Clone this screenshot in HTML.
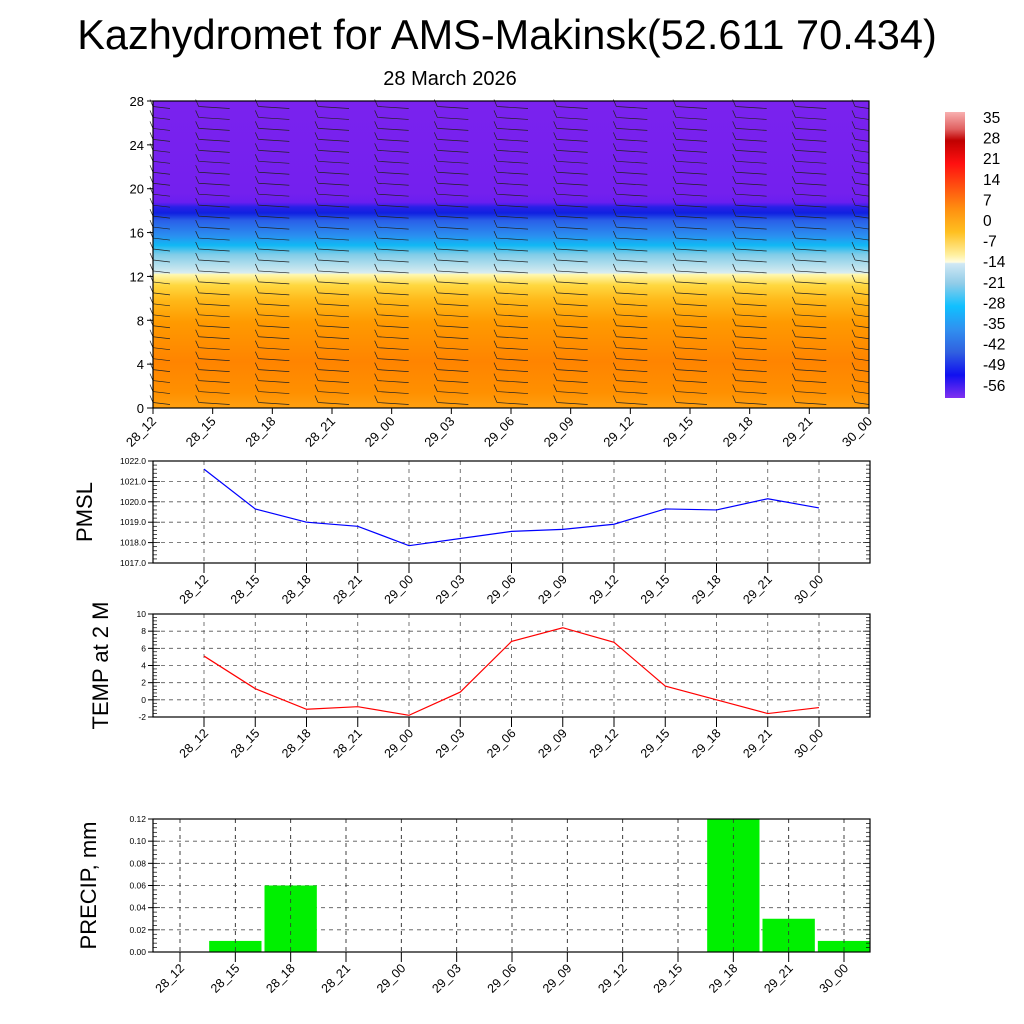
<!DOCTYPE html>
<html><head><meta charset="utf-8">
<style>
html,body{margin:0;padding:0;background:#fff;}
svg{display:block;font-family:"Liberation Sans",Arial,sans-serif;}
</style></head>
<body>
<svg id="chart" width="1024" height="1024" viewBox="0 0 1024 1024" xmlns="http://www.w3.org/2000/svg">
<defs>
<linearGradient id="tgrad" x1="0" y1="0" x2="0" y2="1">
<stop offset="0" stop-color="#7a22ee"/>
<stop offset="0.3" stop-color="#7420ee"/>
<stop offset="0.33" stop-color="#6a1ef0"/>
<stop offset="0.345" stop-color="#2a20e8"/>
<stop offset="0.365" stop-color="#1020e0"/>
<stop offset="0.39" stop-color="#2a60e8"/>
<stop offset="0.44" stop-color="#2a90f0"/>
<stop offset="0.47" stop-color="#10b8f4"/>
<stop offset="0.5" stop-color="#80cce8"/>
<stop offset="0.56" stop-color="#d8ecf0"/>
<stop offset="0.565" stop-color="#fff8b0"/>
<stop offset="0.6" stop-color="#ffd840"/>
<stop offset="0.65" stop-color="#ffb818"/>
<stop offset="0.72" stop-color="#ff9a00"/>
<stop offset="0.85" stop-color="#ff8400"/>
<stop offset="0.95" stop-color="#ff9000"/>
<stop offset="1" stop-color="#ffa010"/>
</linearGradient>
<linearGradient id="cbgrad" x1="0" y1="0" x2="0" y2="1">
<stop offset="0" stop-color="#f8b0b0"/>
<stop offset="0.06" stop-color="#e06060"/>
<stop offset="0.1" stop-color="#c00000"/>
<stop offset="0.18" stop-color="#ff1010"/>
<stop offset="0.26" stop-color="#ff5010"/>
<stop offset="0.34" stop-color="#ff9010"/>
<stop offset="0.42" stop-color="#ffc020"/>
<stop offset="0.5" stop-color="#fff0a0"/>
<stop offset="0.525" stop-color="#fffce0"/>
<stop offset="0.53" stop-color="#d0e8f4"/>
<stop offset="0.6" stop-color="#90cce8"/>
<stop offset="0.68" stop-color="#10c0ff"/>
<stop offset="0.76" stop-color="#3090f0"/>
<stop offset="0.84" stop-color="#3060e0"/>
<stop offset="0.92" stop-color="#1010f0"/>
<stop offset="1" stop-color="#8030f0"/>
</linearGradient>
</defs>
<text x="507" y="49" font-size="41.5" text-anchor="middle">Kazhydromet for AMS-Makinsk(52.611 70.434)</text>
<text x="450" y="85" font-size="20" text-anchor="middle">28 March 2026</text>
<g id="top"></g>
<g id="cb"></g>
<g id="pmsl"></g>
<g id="temp"></g>
<g id="prec"></g>
</svg>
<script>
const categories = ["28_12","28_15","28_18","28_21","29_00","29_03","29_06","29_09","29_12","29_15","29_18","29_21","30_00"];
const pmslValues = [1021.6,1019.65,1019.0,1018.8,1017.85,1018.2,1018.55,1018.65,1018.9,1019.65,1019.6,1020.15,1019.7];
const tempValues = [5.1,1.3,-1.1,-0.8,-1.8,0.9,6.8,8.4,6.7,1.6,0.0,-1.6,-0.9];
const precipValues = [0,0.01,0.06,0,0,0,0,0,0,0,0.12,0.03,0.01];
const heightTicks = [0,4,8,12,16,20,24,28];
const pmslTicks = ["1017.0","1018.0","1019.0","1020.0","1021.0","1022.0"];
const tempTicks = ["-2","0","2","4","6","8","10"];
const precipTicks = ["0.00","0.02","0.04","0.06","0.08","0.10","0.12"];
const colorbarLabels = ["35","28","21","14","7","0","-7","-14","-21","-28","-35","-42","-49","-56"];

const NS="http://www.w3.org/2000/svg";
function mk(parent,tag,attrs,text){const e=document.createElementNS(NS,tag);for(const k in attrs)e.setAttribute(k,attrs[k]);if(text!==undefined)e.textContent=text;parent.appendChild(e);return e;}

// ---- top panel ----
(function(){
const g=document.getElementById('top');
const L=153,R=869,T=101,B=408;
const xs=i=>L+i*(R-L)/(categories.length-1);
const ys=v=>B-v*(B-T)/28;
const bg=mk(g,'rect',{x:L,y:T,width:R-L,height:B-T,fill:'url(#tgrad)'});


for(let i=0;i<categories.length;i++){
  const x=xs(i);
  for(let h=0.5;h<28;h+=1){
    const y=ys(h);
    const x0=Math.max(L,x-14), x1=Math.min(R,x+17);
    if(x1-x0<3) continue;
    const b=mk(g,'path',{d:`M${x0},${y} L${x1},${y+2} M${x0},${y} L${x0-3},${y-7}`,stroke:'#222',fill:'none','stroke-width':0.7});
    
    
  }
}
mk(g,'rect',{x:L,y:T,width:R-L,height:B-T,fill:'none',stroke:'#000','stroke-width':1.2});
heightTicks.forEach(v=>{
  const y=ys(v);
  mk(g,'line',{x1:L-6,y1:y,x2:L,y2:y,stroke:'#000'});
  const t=mk(g,'text',{x:L-9,y:y+5,'font-size':13,'text-anchor':'end'},v);
  
  
});
categories.forEach((c,i)=>{
  const x=xs(i);
  mk(g,'line',{x1:x,y1:B,x2:x,y2:B+6,stroke:'#000'});
  const t=mk(g,'text',{x:x+4,y:B+14,'font-size':13,'text-anchor':'end',transform:`rotate(-45 ${x+4} ${B+14})`},c);
  
  
});
})();

// ---- colorbar ----
(function(){
const g=document.getElementById('cb');
mk(g,'rect',{x:945,y:112,width:20,height:286,fill:'url(#cbgrad)'});
colorbarLabels.forEach((l,i)=>{
  const t=mk(g,'text',{x:983,y:123+i*20.6,'font-size':15.5},l);
  
  
});
})();

// ---- line/bar panels ----
function panel(id,L,R,T,B,x0,x1,ticks,vmin,vmax,title,titleX,bars,values,color){
  const g=document.getElementById(id);
  const n=categories.length;
  const xs=i=>x0+i*(x1-x0)/(n-1);
  const ys=v=>B-(v-vmin)*(B-T)/(vmax-vmin);
  ticks.forEach(tk=>{const y=ys(parseFloat(tk));
    mk(g,'line',{x1:L,y1:y,x2:R,y2:y,stroke:'#555','stroke-dasharray':'4,4','stroke-width':0.8});});
  categories.forEach((c,i)=>{const x=xs(i);
    mk(g,'line',{x1:x,y1:T,x2:x,y2:B,stroke:'#555','stroke-dasharray':'4,4','stroke-width':0.8});});
  if(bars){
    const w=(x1-x0)/(n-1)-3;
    values.forEach((v,i)=>{ if(v<=0) return;
      const r=mk(g,'rect',{x:xs(i)-w/2,y:ys(v),width:w,height:B-ys(v),fill:'#00f000'});
      
      
    });
    categories.forEach((c,i)=>{const x=xs(i);
      mk(g,'line',{x1:x,y1:T,x2:x,y2:B,stroke:'#333','stroke-dasharray':'4,4','stroke-width':0.8});});
  } else {
    const p=mk(g,'polyline',{points:values.map((v,i)=>xs(i)+','+ys(v)).join(' '),fill:'none',stroke:color,'stroke-width':1.2});
    
    
  }
  mk(g,'rect',{x:L,y:T,width:R-L,height:B-T,fill:'none',stroke:'#000','stroke-width':1.2});
  const step=(B-T)/((ticks.length-1)*5);
  for(let k=0;k<=(ticks.length-1)*5;k++){const y=T+k*step;const len=k%5===0?7:4;
    mk(g,'line',{x1:L,y1:y,x2:L+len,y2:y,stroke:'#000','stroke-width':0.7});
    mk(g,'line',{x1:R,y1:y,x2:R-len,y2:y,stroke:'#000','stroke-width':0.7});}
  ticks.forEach(tk=>{const y=ys(parseFloat(tk));
    mk(g,'line',{x1:L-5,y1:y,x2:L,y2:y,stroke:'#000'});
    const t=mk(g,'text',{x:L-7,y:y+3,'font-size':8.5,'text-anchor':'end'},tk);
    
    });
  categories.forEach((c,i)=>{const x=xs(i);
    mk(g,'line',{x1:x,y1:B,x2:x,y2:B+10,stroke:'#000'});
    const t=mk(g,'text',{x:x+5,y:B+17,'font-size':12.5,'text-anchor':'end',transform:`rotate(-45 ${x+5} ${B+17})`},c);
    
    });
  const cy=(T+B)/2;
  const tt=mk(g,'text',{x:titleX,y:cy,'font-size':22,'text-anchor':'middle',transform:`rotate(-90 ${titleX} ${cy})`},title);
  
  
}
panel('pmsl',153,870,461,563,204,819,pmslTicks,1017,1022,'PMSL',92,false,pmslValues,'#0000ff');
panel('temp',153,870,614,717,204,819,tempTicks,-2,10,'TEMP at 2 M',108,false,tempValues,'#ff0000');
panel('prec',153,870,819,952,180,844,precipTicks,0,0.12,'PRECIP, mm',96,true,precipValues,'#00f000');
</script>
</body></html>
